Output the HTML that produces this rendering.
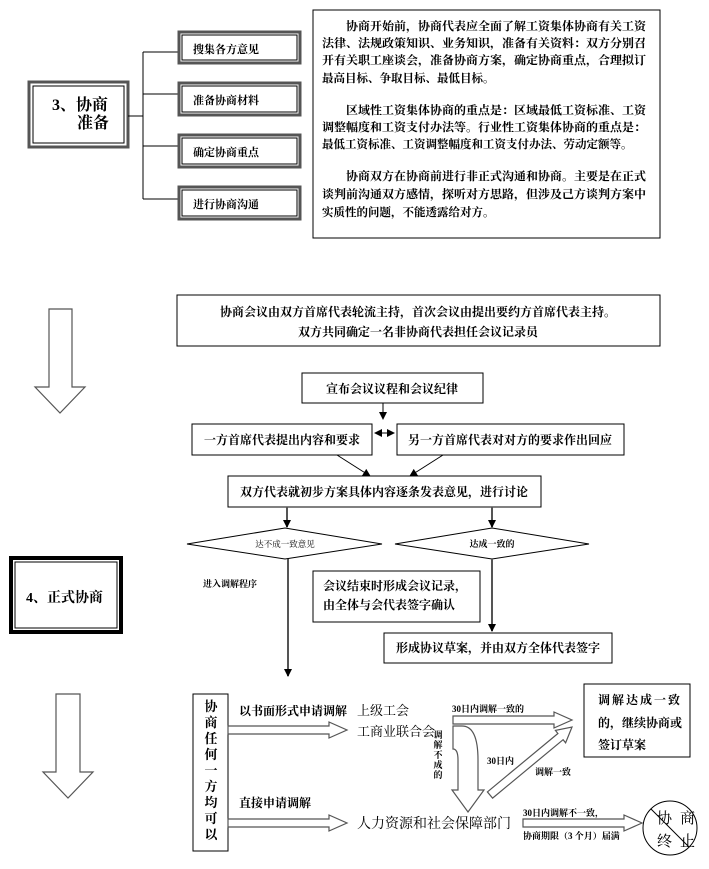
<!DOCTYPE html>
<html><head><meta charset="utf-8"><style>
html,body{margin:0;padding:0;background:#fff;}
svg{display:block;}
text{font-family:"Liberation Serif","Noto Serif CJK SC","Noto Sans CJK SC",serif;fill:#000;}
.b{font-weight:bold;}
</style></head><body>
<svg width="709" height="869" viewBox="0 0 709 869" xmlns="http://www.w3.org/2000/svg">
<!-- Section 3 -->
<rect x="29" y="82" width="99" height="65" fill="#fff" stroke="#555" stroke-width="3"/>
<rect x="33" y="86" width="91" height="57" fill="none" stroke="#000" stroke-width="1"/>
<text x="52" y="110" font-size="16" class="b">3、协商</text>
<text x="77" y="128" font-size="16" class="b">准备</text>
<line x1="128" y1="116" x2="143" y2="116" stroke="#000"/>
<line x1="143" y1="52" x2="143" y2="199" stroke="#000"/>
<g stroke="#000"><line x1="143" y1="52" x2="179" y2="52"/><line x1="143" y1="94" x2="179" y2="94"/><line x1="143" y1="146" x2="179" y2="146"/><line x1="143" y1="199" x2="179" y2="199"/></g>
<g fill="#fff" stroke="#555" stroke-width="3">
<rect x="179" y="32" width="121" height="31"/><rect x="179" y="83" width="121" height="32"/><rect x="179" y="135" width="121" height="32"/><rect x="179" y="187" width="121" height="32"/></g>
<g fill="none" stroke="#000" stroke-width="1">
<rect x="182" y="35" width="115" height="25"/><rect x="182" y="86" width="115" height="26"/><rect x="182" y="138" width="115" height="26"/><rect x="182" y="190" width="115" height="26"/></g>
<g font-size="11" class="b">
<text x="193" y="53">搜集各方意见</text><text x="193" y="104">准备协商材料</text><text x="193" y="156">确定协商重点</text><text x="193" y="208">进行协商沟通</text></g>
<rect x="313" y="10" width="347" height="228" fill="#fff" stroke="#000"/>
<g font-size="11.5" class="b">
<text x="346" y="30" textLength="300" lengthAdjust="spacingAndGlyphs">协商开始前，协商代表应全面了解工资集体协商有关工资</text>
<text x="322" y="47" textLength="324" lengthAdjust="spacingAndGlyphs">法律、法规政策知识、业务知识，准备有关资料：双方分别召</text>
<text x="322" y="64" textLength="324" lengthAdjust="spacingAndGlyphs">开有关职工座谈会，准备协商方案，确定协商重点，合理拟订</text>
<text x="322" y="82">最高目标、争取目标、最低目标。</text>
<text x="346" y="114" textLength="300" lengthAdjust="spacingAndGlyphs">区域性工资集体协商的重点是：区域最低工资标准、工资</text>
<text x="322" y="131" textLength="324" lengthAdjust="spacingAndGlyphs">调整幅度和工资支付办法等。行业性工资集体协商的重点是：</text>
<text x="322" y="148">最低工资标准、工资调整幅度和工资支付办法、劳动定额等。</text>
<text x="346" y="180" textLength="300" lengthAdjust="spacingAndGlyphs">协商双方在协商前进行非正式沟通和协商。主要是在正式</text>
<text x="322" y="198" textLength="324" lengthAdjust="spacingAndGlyphs">谈判前沟通双方感情，探听对方思路，但涉及己方谈判方案中</text>
<text x="322" y="216">实质性的问题，不能透露给对方。</text>
</g>
<!-- Big left arrows -->
<polygon points="49,309 72,309 72,387 85,387 60,413 35,387 49,387" fill="#fff" stroke="#555" stroke-width="1.2"/>
<polygon points="56,694 80,694 80,772 93,772 68,798 43,772 56,772" fill="#fff" stroke="#555" stroke-width="1.2"/>
<!-- Section 4 box -->
<rect x="11" y="558" width="110" height="74" fill="#fff" stroke="#000" stroke-width="4"/>
<rect x="15" y="562" width="102" height="66" fill="none" stroke="#000" stroke-width="1"/>
<text x="26" y="602" font-size="14" class="b">4、正式协商</text>
<!-- middle flow -->
<rect x="177" y="295" width="483" height="51" fill="#fff" stroke="#000"/>
<text x="418" y="316" font-size="12" class="b" text-anchor="middle">协商会议由双方首席代表轮流主持，首次会议由提出要约方首席代表主持。</text>
<text x="418" y="336" font-size="12" class="b" text-anchor="middle">双方共同确定一名非协商代表担任会议记录员</text>
<rect x="302" y="373" width="181" height="30" fill="#fff" stroke="#000"/>
<text x="392" y="393" font-size="12" class="b" text-anchor="middle">宣布会议议程和会议纪律</text>
<defs><marker id="ah" markerWidth="8" markerHeight="8" refX="7" refY="4" orient="auto" markerUnits="userSpaceOnUse"><path d="M0,0 L8,4 L0,8 Z" fill="#000"/></marker></defs>
<line x1="383" y1="403" x2="383" y2="419" stroke="#000" marker-end="url(#ah)"/>
<rect x="192" y="424" width="180" height="31" fill="#fff" stroke="#000"/>
<text x="282" y="444" font-size="12" class="b" text-anchor="middle">一方首席代表提出内容和要求</text>
<rect x="397" y="424" width="227" height="31" fill="#fff" stroke="#000"/>
<text x="510" y="444" font-size="12" class="b" text-anchor="middle">另一方首席代表对对方的要求作出回应</text>
<line x1="375" y1="433" x2="394" y2="433" stroke="#000" marker-end="url(#ah)" marker-start="url(#ah2)"/>
<defs><marker id="ah2" markerWidth="8" markerHeight="8" refX="1" refY="4" orient="auto" markerUnits="userSpaceOnUse"><path d="M8,0 L0,4 L8,8 Z" fill="#000"/></marker></defs>
<line x1="337" y1="455" x2="370" y2="476" stroke="#000" marker-end="url(#ah)"/>
<line x1="443" y1="455" x2="410" y2="476" stroke="#000" marker-end="url(#ah)"/>
<rect x="228" y="476" width="313" height="31" fill="#fff" stroke="#000"/>
<text x="384" y="496" font-size="12" class="b" text-anchor="middle">双方代表就初步方案具体内容逐条发表意见，进行讨论</text>
<line x1="287" y1="507" x2="287" y2="527" stroke="#555" stroke-width="2" marker-end="url(#ah)"/>
<line x1="492" y1="507" x2="492" y2="527" stroke="#555" stroke-width="2" marker-end="url(#ah)"/>
<polygon points="187,544 285,528 382,544 285,559" fill="#fff" stroke="#000"/>
<polygon points="395,544 492,528 589,544 492,559" fill="#fff" stroke="#000"/>
<text x="285" y="547" font-size="8.5" text-anchor="middle">达不成一致意见</text>
<text x="492" y="547" font-size="9" class="b" text-anchor="middle">达成一致的</text>
<line x1="288" y1="559" x2="288" y2="676" stroke="#555" stroke-width="2" marker-end="url(#ah)"/>
<text x="203" y="587" font-size="9" class="b">进入调解程序</text>
<rect x="313" y="571" width="167" height="51" fill="#fff" stroke="#000"/>
<text x="323" y="590" font-size="12" class="b">会议结束时形成会议记录，</text>
<text x="323" y="609" font-size="12" class="b">由全体与会代表签字确认</text>
<line x1="492" y1="559" x2="492" y2="631" stroke="#555" stroke-width="2" marker-end="url(#ah)"/>
<rect x="384" y="633" width="228" height="30" fill="#fff" stroke="#000"/>
<text x="498" y="652" font-size="12" class="b" text-anchor="middle">形成协议草案，并由双方全体代表签字</text>
<!-- bottom -->
<rect x="193" y="694" width="35" height="157" fill="#fff" stroke="#000"/>
<g font-size="13" class="b" text-anchor="middle">
<text x="211" y="711">协</text><text x="211" y="727">商</text><text x="211" y="743">任</text><text x="211" y="759">何</text><text x="211" y="775">一</text><text x="211" y="791">方</text><text x="211" y="807">均</text><text x="211" y="823">可</text><text x="211" y="839">以</text></g>
<text x="239" y="715" font-size="12" class="b">以书面形式申请调解</text>
<text x="239" y="807" font-size="12" class="b">直接申请调解</text>
<g fill="#fff" stroke="#555" stroke-width="1.2">
<polygon points="228,726 329,726 329,722 347,730 329,738 329,734 228,734"/>
<polygon points="228,819 329,819 329,815 347,823 329,831 329,827 228,827"/>
<polygon points="453,716 554,716 554,712 572,720 554,728 554,724 453,724"/>
<polygon points="523,819 624,819 624,815 642,823 624,831 624,827 523,827"/>
<path d="M453,726 L462,726 Q478,726 478,760 L478,790 L484,790 L468,812 L452,790 L458,790 L458,760 Q458,749 453,749 Z"/>
<polygon points="487.4,791.9 557.9,733.5 555.4,730.4 572,727 565.6,742.8 563.1,739.7 492.6,798.1"/>
</g>
<text x="357" y="715" font-size="13">上级工会</text>
<text x="357" y="736" font-size="13">工商业联合会</text>
<text x="357" y="828" font-size="14">人力资源和社会保障部门</text>
<text x="452" y="712" font-size="9" class="b">30日内调解一致的</text>
<g font-size="9" class="b" text-anchor="middle"><text x="438" y="738">调</text><text x="438" y="748">解</text><text x="438" y="758">不</text><text x="438" y="768">成</text><text x="438" y="778">的</text></g>
<text x="487" y="764" font-size="9" class="b">30日内</text>
<text x="535" y="775" font-size="9" class="b">调解一致</text>
<text x="523" y="816" font-size="9" class="b">30日内调解不一致，</text>
<text x="523" y="839" font-size="9" class="b">协商期限（3 个月）届满</text>
<rect x="584" y="684" width="106" height="73" fill="#fff" stroke="#000"/>
<text x="598" y="704" font-size="12" class="b" textLength="82" lengthAdjust="spacing">调解达成一致</text>
<text x="598" y="727" font-size="12" class="b">的，继续协商或</text>
<text x="598" y="749" font-size="12" class="b">签订草案</text>
<circle cx="670" cy="828" r="27" fill="#fff" stroke="#000"/>
<line x1="651" y1="809" x2="689" y2="847" stroke="#000"/>
<g font-size="15"><text x="657" y="823">协</text><text x="680" y="823">商</text><text x="657" y="846">终</text><text x="680" y="846">止</text></g>
</svg>
</body></html>
